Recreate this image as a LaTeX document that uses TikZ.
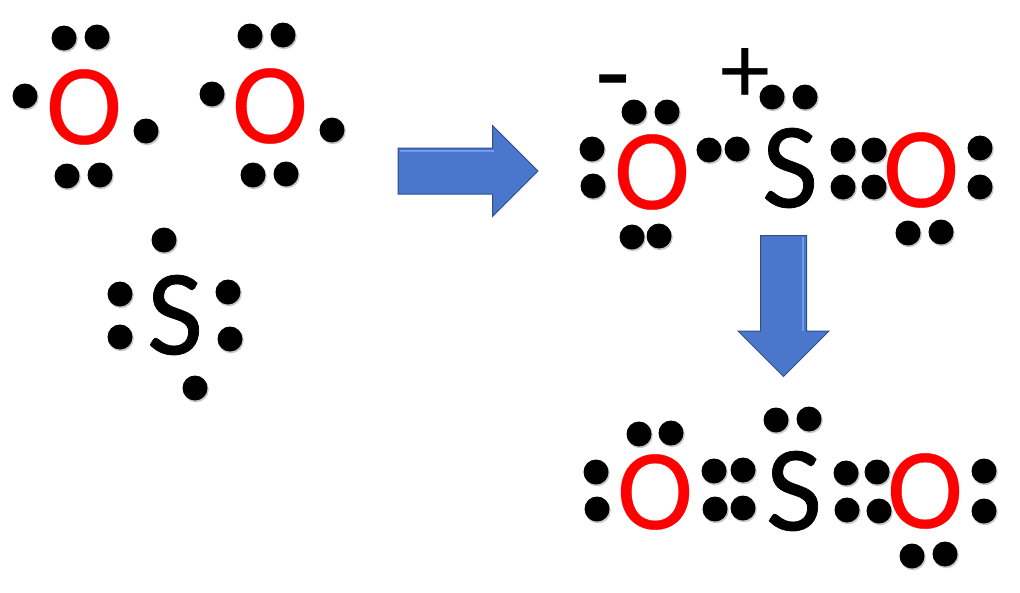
\documentclass[tikz,border=0pt]{standalone}
\usepackage{fontspec}
\setmainfont{Carlito}
\newfontfamily\oxyfont[FakeBold=0.25]{Carlito}
\newfontfamily\sulfont[FakeBold=0.6]{Carlito}
\usetikzlibrary{shapes.arrows}
\definecolor{cblue}{HTML}{4A76CC}
\definecolor{cedge}{HTML}{2F4F86}
\definecolor{clight}{HTML}{6E9BEA}
\definecolor{cred}{HTML}{FF0000}
\tikzset{
  oxy/.style={inner sep=0pt, text=cred, font=\oxyfont\fontsize{115}{115}\selectfont},
  sul/.style={inner sep=0pt, text=black, font=\sulfont\fontsize{122}{122}\selectfont},
  charge/.style={inner sep=0pt, text=black, font=\fontsize{#1}{#1}\selectfont},
  dotshade/.style={circle, fill=black!22, inner sep=0pt, minimum size=25.5pt},
  dot/.style={circle, fill=black, inner sep=0pt, minimum size=25pt},
  bigarrow/.style={single arrow, fill=cblue, draw=cedge, line width=1pt, inner sep=22.5pt, shape border rotate=#1, single arrow head indent=0pt, single arrow head extend=22.5pt},
  shine/.style={draw=clight, line width=1.6pt},
}
\begin{document}
\begin{tikzpicture}[x=1pt, y=-1pt]
  \useasboundingbox (0,0) rectangle (1020,592);

  % atoms on the left
  \node[oxy] (o1) at (84,107)  {O};
  \node[oxy] (o2) at (270,106) {O};
  \node[sul] (s1) at (175,315) {S};

  % upper molecule
  \node[charge=115] (minus) at (613,93) {-};
  \node[charge=100] (plus)  at (745,76) {+};
  \node[oxy] (o3) at (652,172) {O};
  \node[sul] (s2) at (790,168) {S};
  \node[oxy] (o4) at (921,170) {O};

  % lower molecule
  \node[oxy] (o5) at (655,492) {O};
  \node[sul] (s3) at (794,491) {S};
  \node[oxy] (o6) at (925,491) {O};

  % electrons
  \foreach \x/\y [count=\i] in {
    64/38, 97/37, 25/96, 146/131, 67/176, 100/175,
    250/36, 283/35, 212/94, 332/130, 253/175, 286/174,
    164/240, 120/294, 228/292, 120/337, 230/339, 195/388,
    634/112, 667/112, 592/149, 593/186, 632/237, 659/236, 709/150, 737/149,
    772/97, 805/97, 843/150, 843/187, 874/150, 874/187,
    980/148, 980/187, 908/233, 941/232,
    639/434, 671/433, 596/472, 597/509, 714/471, 743/470, 715/509, 743/508,
    776/420, 809/419, 846/473, 847/510, 877/472, 879/511,
    984/471, 984/511, 912/556, 945/554} {
    \node[dotshade] (sh\i) at (\x+1,\y+1.5) {};
    \node[dot] (e\i) at (\x,\y) {};
  }

  % reaction arrows
  \node[bigarrow=0, minimum height=140pt] (right) at (456.5,171) {};
  \node[bigarrow=270, minimum height=141pt] (down) at (783.5,294.5) {};
  \draw[shine] (400,151) -- (494,151);
  \draw[shine] (803,237) -- (803,331);
\end{tikzpicture}
\end{document}
